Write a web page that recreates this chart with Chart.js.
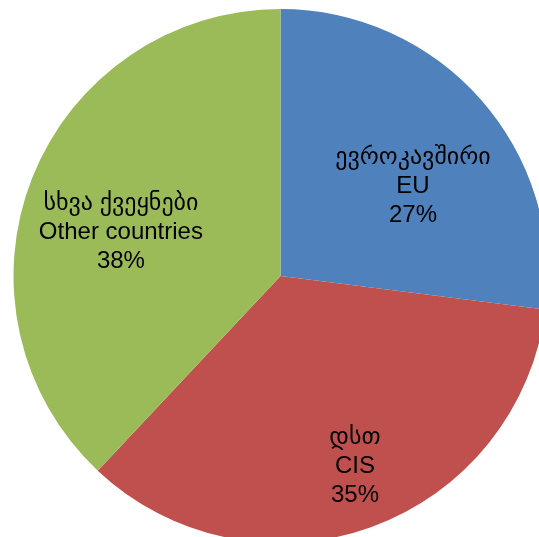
<!DOCTYPE html>
<html>
<head>
<meta charset="utf-8">
<script src="https://cdn.jsdelivr.net/npm/chart.js@4"></script>
<style>
  html, body { margin: 0; padding: 0; background: #fff; }
  #wrap { width: 539px; height: 537px; }
</style>
</head>
<body>
<div id="wrap"><canvas id="chart"></canvas></div>
<script>
'use strict';

// data
const namesKa = ['ევროკავშირი', 'დსთ', 'სხვა ქვეყნები']
const namesEn = ['EU', 'CIS', 'Other countries']
const shares = [27, 35, 38]
const colors = ['#4F81BD', '#C0504D', '#9BBB59']

// where each label sits inside its slice (angle shift in degrees, fraction of radius)
const labelShift = [7.2, -1.6, -6.2]
const labelRadius = [0.60, 0.765, 0.62]

const sliceLabels = {
    id: 'sliceLabels',
    afterDatasetsDraw(chart) {
        const ctx = chart.ctx
        const arcs = chart.getDatasetMeta(0).data
        ctx.save()
        ctx.fillStyle = '#000'
        ctx.textAlign = 'center'
        ctx.textBaseline = 'middle'
        ctx.font = '24px "Liberation Sans", Arial, "DejaVu Sans", sans-serif'
        for (let i = 0; i < arcs.length; i++) {
            const a = arcs[i]
            const mid = (a.startAngle + a.endAngle) / 2 + labelShift[i] * Math.PI / 180
            const r = a.outerRadius * labelRadius[i]
            const x = a.x + Math.cos(mid) * r
            const y = a.y + Math.sin(mid) * r
            const lines = [namesKa[i], namesEn[i], shares[i] + '%']
            for (let j = 0; j < lines.length; j++) {
                ctx.fillText(lines[j], x, y + (j - 1) * 29)
            }
        }
        ctx.restore()
    }
}

new Chart(document.getElementById('chart'), {
    type: 'pie',
    data: {
        labels: namesEn,
        datasets: [{
            data: shares,
            backgroundColor: colors,
            borderWidth: 0,
            clip: false,
        }]
    },
    options: {
        responsive: true,
        maintainAspectRatio: false,
        animation: false,
        radius: 267,
        layout: { padding: { left: 22, top: 15, right: 0, bottom: 0 } },
        plugins: {
            legend: { display: false },
            tooltip: { enabled: false },
        }
    },
    plugins: [sliceLabels]
})
</script>
</body>
</html>
